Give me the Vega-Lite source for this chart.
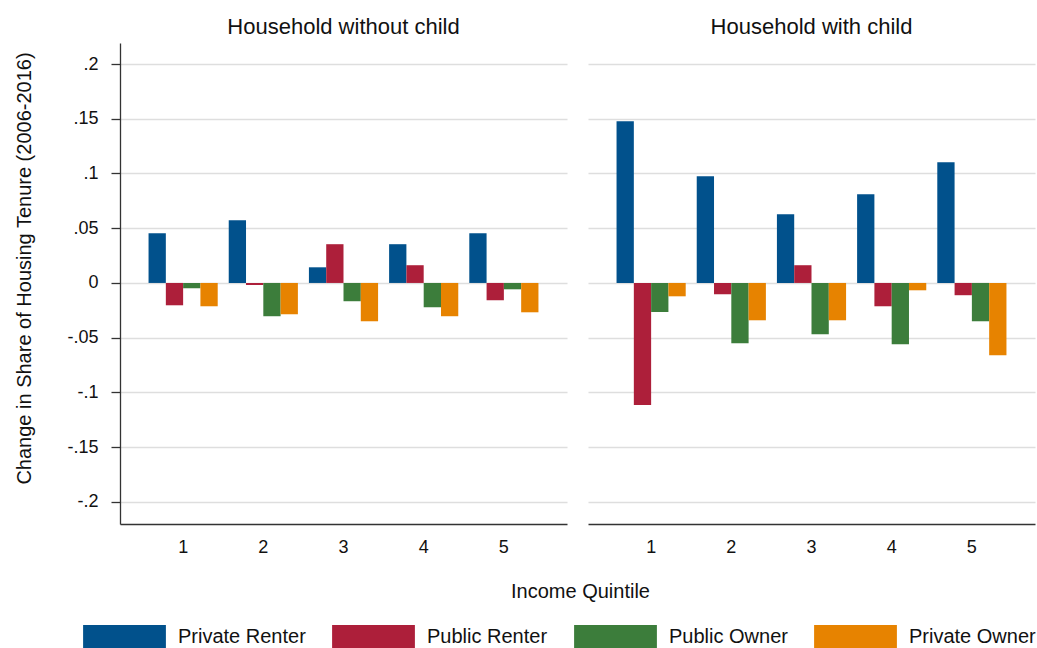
{
  "$schema": "https://vega.github.io/schema/vega-lite/v6.json",
  "background": "white",
  "padding": {"left": 13, "top": 16, "right": 2, "bottom": 0},
  "bounds": "flush",
  "data": {
    "values": [
      {"household": "Household without child", "quintile": 1, "tenure": "Private Renter", "change": 0.0454},
      {"household": "Household without child", "quintile": 1, "tenure": "Public Renter", "change": -0.0204},
      {"household": "Household without child", "quintile": 1, "tenure": "Public Owner", "change": -0.0049},
      {"household": "Household without child", "quintile": 1, "tenure": "Private Owner", "change": -0.0213},
      {"household": "Household without child", "quintile": 2, "tenure": "Private Renter", "change": 0.0573},
      {"household": "Household without child", "quintile": 2, "tenure": "Public Renter", "change": -0.0018},
      {"household": "Household without child", "quintile": 2, "tenure": "Public Owner", "change": -0.0304},
      {"household": "Household without child", "quintile": 2, "tenure": "Private Owner", "change": -0.0286},
      {"household": "Household without child", "quintile": 3, "tenure": "Private Renter", "change": 0.0143},
      {"household": "Household without child", "quintile": 3, "tenure": "Public Renter", "change": 0.0354},
      {"household": "Household without child", "quintile": 3, "tenure": "Public Owner", "change": -0.0167},
      {"household": "Household without child", "quintile": 3, "tenure": "Private Owner", "change": -0.035},
      {"household": "Household without child", "quintile": 4, "tenure": "Private Renter", "change": 0.0354},
      {"household": "Household without child", "quintile": 4, "tenure": "Public Renter", "change": 0.0162},
      {"household": "Household without child", "quintile": 4, "tenure": "Public Owner", "change": -0.0222},
      {"household": "Household without child", "quintile": 4, "tenure": "Private Owner", "change": -0.0304},
      {"household": "Household without child", "quintile": 5, "tenure": "Private Renter", "change": 0.0454},
      {"household": "Household without child", "quintile": 5, "tenure": "Public Renter", "change": -0.0158},
      {"household": "Household without child", "quintile": 5, "tenure": "Public Owner", "change": -0.0058},
      {"household": "Household without child", "quintile": 5, "tenure": "Private Owner", "change": -0.0268},
      {"household": "Household with child", "quintile": 1, "tenure": "Private Renter", "change": 0.1478},
      {"household": "Household with child", "quintile": 1, "tenure": "Public Renter", "change": -0.1115},
      {"household": "Household with child", "quintile": 1, "tenure": "Public Owner", "change": -0.0265},
      {"household": "Household with child", "quintile": 1, "tenure": "Private Owner", "change": -0.0122},
      {"household": "Household with child", "quintile": 2, "tenure": "Private Renter", "change": 0.0975},
      {"household": "Household with child", "quintile": 2, "tenure": "Public Renter", "change": -0.0103},
      {"household": "Household with child", "quintile": 2, "tenure": "Public Owner", "change": -0.0551},
      {"household": "Household with child", "quintile": 2, "tenure": "Private Owner", "change": -0.0341},
      {"household": "Household with child", "quintile": 3, "tenure": "Private Renter", "change": 0.0628},
      {"household": "Household with child", "quintile": 3, "tenure": "Public Renter", "change": 0.0162},
      {"household": "Household with child", "quintile": 3, "tenure": "Public Owner", "change": -0.0469},
      {"household": "Household with child", "quintile": 3, "tenure": "Private Owner", "change": -0.0341},
      {"household": "Household with child", "quintile": 4, "tenure": "Private Renter", "change": 0.0811},
      {"household": "Household with child", "quintile": 4, "tenure": "Public Renter", "change": -0.0213},
      {"household": "Household with child", "quintile": 4, "tenure": "Public Owner", "change": -0.056},
      {"household": "Household with child", "quintile": 4, "tenure": "Private Owner", "change": -0.0067},
      {"household": "Household with child", "quintile": 5, "tenure": "Private Renter", "change": 0.1103},
      {"household": "Household with child", "quintile": 5, "tenure": "Public Renter", "change": -0.0112},
      {"household": "Household with child", "quintile": 5, "tenure": "Public Owner", "change": -0.035},
      {"household": "Household with child", "quintile": 5, "tenure": "Private Owner", "change": -0.0661}
    ]
  },
  "spacing": 21,
  "hconcat": [
    {
      "title": {"text": "Household without child"},
      "width": 447,
      "height": 481,
      "transform": [{"filter": "datum.household == 'Household without child'"}],
      "mark": {"type": "bar"},
      "encoding": {
        "x": {
          "field": "quintile",
          "type": "ordinal",
          "scale": {"paddingInner": 0.1375, "paddingOuter": 0.356},
          "axis": {
            "title": "Income Quintile",
            "titleX": 460,
            "titleY": 73,
            "titleAlign": "center",
            "titleBaseline": "alphabetic"
          }
        },
        "xOffset": {
          "field": "tenure",
          "type": "nominal",
          "sort": ["Private Renter", "Public Renter", "Public Owner", "Private Owner"],
          "scale": {"paddingInner": 0, "paddingOuter": 0}
        },
        "y": {
          "field": "change",
          "type": "quantitative",
          "scale": {"domain": [-0.2202, 0.2192], "nice": false, "zero": false},
          "axis": {
            "title": "Change in Share of Housing Tenure (2006-2016)",
            "values": [-0.2, -0.15, -0.1, -0.05, 0, 0.05, 0.1, 0.15, 0.2],
            "labelExpr": "datum.value == 0 ? '0' : replace(replace(format(datum.value, '.2~f'), '0.', '.'), '−', '-')",
            "tickSize": 9,
            "labelPadding": 13,
            "labelFontSize": 18,
            "titleFontSize": 20,
            "titleX": -96,
            "titleY": 225,
            "titleAlign": "center",
            "titleBaseline": "middle",
            "titleAngle": -90
          }
        },
        "color": {
          "field": "tenure",
          "type": "nominal",
          "sort": ["Private Renter", "Public Renter", "Public Owner", "Private Owner"],
          "scale": {
            "domain": ["Private Renter", "Public Renter", "Public Owner", "Private Owner"],
            "range": ["#01518C", "#AD1F3A", "#3C7D3B", "#E78300"]
          },
          "legend": {
            "title": null,
            "orient": "none",
            "legendX": -7,
            "legendY": 582,
            "direction": "horizontal",
            "columns": 4,
            "symbolType": "M-3.6,-1L3.6,-1L3.6,1L-3.6,1Z",
            "symbolSize": 529,
            "symbolStrokeWidth": 0,
            "symbolOpacity": 1,
            "labelFontSize": 20,
            "labelOffset": 42,
            "columnPadding": 26,
            "labelColor": "#111"
          }
        }
      }
    },
    {
      "title": {"text": "Household with child"},
      "width": 447,
      "height": 481,
      "transform": [{"filter": "datum.household == 'Household with child'"}],
      "mark": {"type": "bar"},
      "encoding": {
        "x": {
          "field": "quintile",
          "type": "ordinal",
          "scale": {"paddingInner": 0.1375, "paddingOuter": 0.356},
          "axis": {"title": null}
        },
        "xOffset": {
          "field": "tenure",
          "type": "nominal",
          "sort": ["Private Renter", "Public Renter", "Public Owner", "Private Owner"],
          "scale": {"paddingInner": 0, "paddingOuter": 0}
        },
        "y": {
          "field": "change",
          "type": "quantitative",
          "scale": {"domain": [-0.2202, 0.2192], "nice": false, "zero": false},
          "axis": {
            "title": null,
            "values": [-0.2, -0.15, -0.1, -0.05, 0, 0.05, 0.1, 0.15, 0.2],
            "labels": false,
            "ticks": false,
            "domain": false
          }
        },
        "color": {
          "field": "tenure",
          "type": "nominal",
          "sort": ["Private Renter", "Public Renter", "Public Owner", "Private Owner"],
          "scale": {
            "domain": ["Private Renter", "Public Renter", "Public Owner", "Private Owner"],
            "range": ["#01518C", "#AD1F3A", "#3C7D3B", "#E78300"]
          }
        }
      }
    }
  ],
  "config": {
    "font": "Liberation Sans",
    "view": {"stroke": null},
    "title": {
      "font": "Liberation Sans",
      "fontSize": 22,
      "fontWeight": "normal",
      "color": "#111",
      "anchor": "middle",
      "frame": "group",
      "baseline": "alphabetic",
      "offset": 4
    },
    "axis": {
      "labelFont": "Liberation Sans",
      "titleFont": "Liberation Sans",
      "labelColor": "#111",
      "titleColor": "#111",
      "titleFontWeight": "normal",
      "titleFontSize": 20,
      "labelFontSize": 18,
      "domainColor": "#333",
      "domainWidth": 1.3,
      "tickColor": "#333",
      "tickWidth": 1.3,
      "gridColor": "#dedede",
      "gridWidth": 1.6
    },
    "axisX": {"grid": false, "labelAngle": 0, "ticks": false, "labelPadding": 14, "labelDx": 6},
    "legend": {"labelFont": "Liberation Sans"}
  }
}
